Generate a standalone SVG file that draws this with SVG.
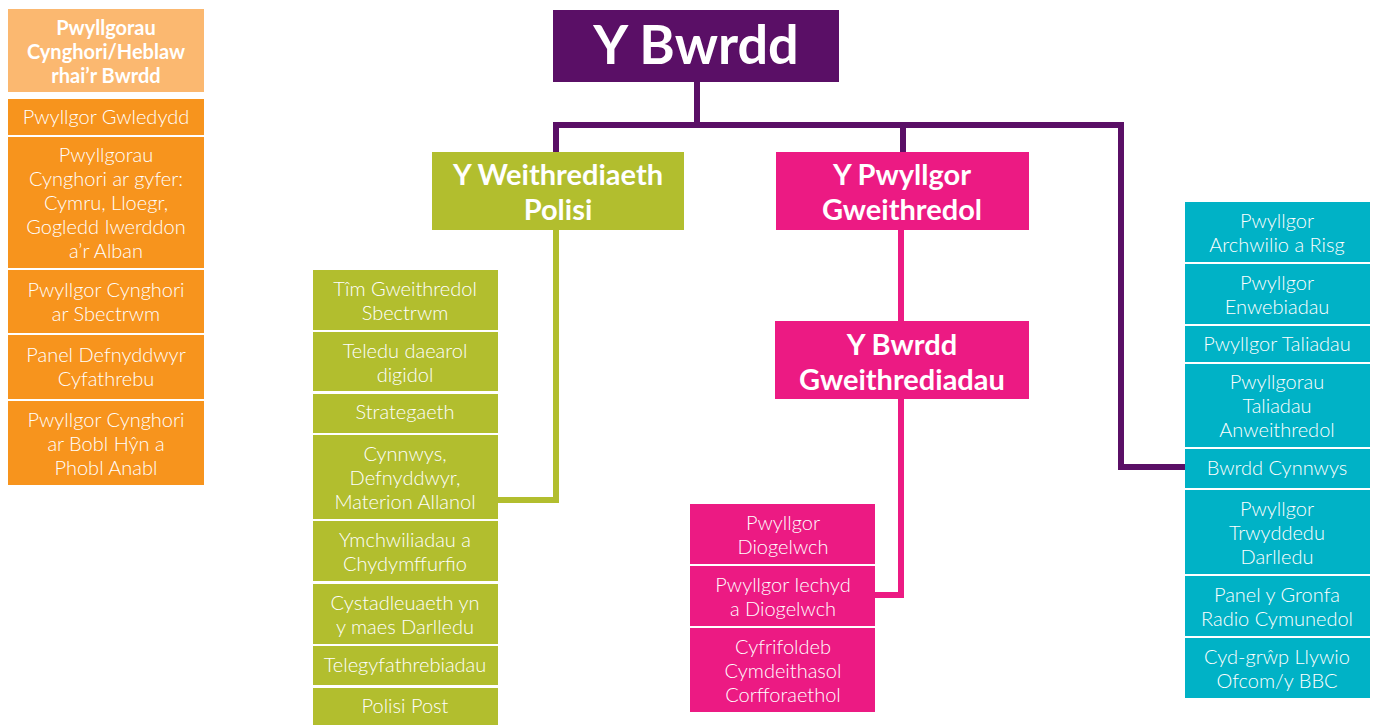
<svg xmlns="http://www.w3.org/2000/svg" width="1377" height="725" viewBox="0 0 1377 725">
<style>
.bg{fill:#FFFFFF}
.pur{fill:#5A0F66}
.grn{fill:#B2BE2E}
.pnk{fill:#EC1A83}
.tea{fill:#00B2C6}
.org{fill:#F7941D}
.lor{fill:#FBB870}
text{fill:#FFFFFF;font-family:Lato,"Open Sans","Liberation Sans",sans-serif;text-anchor:middle}
.it{font-size:20px;font-weight:300}
.hd{font-size:20px;font-weight:700}
.h2{font-size:29px;font-weight:700}
.h1{font-size:54px;font-weight:700}
.lp{fill:none;stroke:#5A0F66;stroke-width:6;stroke-linejoin:miter}
.lg{fill:none;stroke:#B2BE2E;stroke-width:6;stroke-linejoin:miter}
.lk{fill:none;stroke:#EC1A83;stroke-width:6;stroke-linejoin:miter}
</style>
<rect class="bg" x="0" y="0" width="1377" height="725"/>
<g id="connectors">
<path class="lp" d="M697,82 V125 M556,152 V125 H1121 V467 H1186"/>
<path class="lp" d="M903,125 V152"/>
<path class="lg" d="M556,230 V500 H498"/>
<path class="lk" d="M901,230 V321 M901,399 V595 H875"/>
</g>
<g id="y-bwrdd"><rect class="pur" x="553" y="10" width="286" height="72"/><text class="h1" x="696" y="64">Y Bwrdd</text></g>
<g id="weithrediaeth-polisi"><rect class="grn" x="432" y="152" width="252" height="78"/><text class="h2" x="558" y="185">Y Weithrediaeth</text><text class="h2" x="558" y="220">Polisi</text></g>
<g id="pwyllgor-gweithredol"><rect class="pnk" x="776" y="152" width="253" height="78"/><text class="h2" x="902" y="185">Y Pwyllgor</text><text class="h2" x="902" y="220">Gweithredol</text></g>
<g id="bwrdd-gweithrediadau"><rect class="pnk" x="775" y="321" width="254" height="78"/><text class="h2" x="902" y="355">Y Bwrdd</text><text class="h2" x="902" y="390">Gweithrediadau</text></g>

<g id="orange-header"><rect class="lor" x="8" y="9" width="196" height="83"/><text class="hd" x="106" y="35">Pwyllgorau</text><text class="hd" x="106" y="59">Cynghori/Heblaw</text><text class="hd" x="106" y="83">rhai’r Bwrdd</text></g>
<g id="o1"><rect class="org" x="8" y="99" width="196" height="36"/><text class="it" x="106" y="124">Pwyllgor Gwledydd</text></g>
<g id="o2"><rect class="org" x="8" y="137" width="196" height="131"/><text class="it" x="106" y="162">Pwyllgorau</text><text class="it" x="106" y="186">Cynghori ar gyfer:</text><text class="it" x="106" y="210">Cymru, Lloegr,</text><text class="it" x="106" y="234">Gogledd Iwerddon</text><text class="it" x="106" y="258">a’r Alban</text></g>
<g id="o3"><rect class="org" x="8" y="270" width="196" height="63"/><text class="it" x="106" y="297">Pwyllgor Cynghori</text><text class="it" x="106" y="321">ar Sbectrwm</text></g>
<g id="o4"><rect class="org" x="8" y="335" width="196" height="64"/><text class="it" x="106" y="362">Panel Defnyddwyr</text><text class="it" x="106" y="386">Cyfathrebu</text></g>
<g id="o5"><rect class="org" x="8" y="401" width="196" height="84"/><text class="it" x="106" y="427">Pwyllgor Cynghori</text><text class="it" x="106" y="451">ar Bobl Hŷn a</text><text class="it" x="106" y="475">Phobl Anabl</text></g>

<g id="g1"><rect class="grn" x="313" y="270" width="185" height="60"/><text class="it" x="405" y="296">Tîm Gweithredol</text><text class="it" x="405" y="320">Sbectrwm</text></g>
<g id="g2"><rect class="grn" x="313" y="332" width="185" height="59"/><text class="it" x="405" y="358">Teledu daearol</text><text class="it" x="405" y="382">digidol</text></g>
<g id="g3"><rect class="grn" x="313" y="394" width="185" height="39"/><text class="it" x="405" y="419">Strategaeth</text></g>
<g id="g4"><rect class="grn" x="313" y="435" width="185" height="84"/><text class="it" x="405" y="461">Cynnwys,</text><text class="it" x="405" y="485">Defnyddwyr,</text><text class="it" x="405" y="509">Materion Allanol</text></g>
<g id="g5"><rect class="grn" x="313" y="521" width="185" height="60"/><text class="it" x="405" y="547">Ymchwiliadau a</text><text class="it" x="405" y="571">Chydymffurfio</text></g>
<g id="g6"><rect class="grn" x="313" y="584" width="185" height="60"/><text class="it" x="405" y="610">Cystadleuaeth yn</text><text class="it" x="405" y="634">y maes Darlledu</text></g>
<g id="g7"><rect class="grn" x="313" y="646" width="185" height="39"/><text class="it" x="405" y="672">Telegyfathrebiadau</text></g>
<g id="g8"><rect class="grn" x="313" y="688" width="185" height="37"/><text class="it" x="405" y="713">Polisi Post</text></g>

<g id="p1"><rect class="pnk" x="690" y="504" width="185" height="60"/><text class="it" x="783" y="530">Pwyllgor</text><text class="it" x="783" y="554">Diogelwch</text></g>
<g id="p2"><rect class="pnk" x="690" y="566" width="185" height="60"/><text class="it" x="783" y="592">Pwyllgor Iechyd</text><text class="it" x="783" y="616">a Diogelwch</text></g>
<g id="p3"><rect class="pnk" x="690" y="628" width="185" height="84"/><text class="it" x="783" y="654">Cyfrifoldeb</text><text class="it" x="783" y="678">Cymdeithasol</text><text class="it" x="783" y="702">Corfforaethol</text></g>

<g id="t1"><rect class="tea" x="1185" y="202" width="185" height="60"/><text class="it" x="1277" y="228">Pwyllgor</text><text class="it" x="1277" y="252">Archwilio a Risg</text></g>
<g id="t2"><rect class="tea" x="1185" y="264" width="185" height="60"/><text class="it" x="1277" y="290">Pwyllgor</text><text class="it" x="1277" y="314">Enwebiadau</text></g>
<g id="t3"><rect class="tea" x="1185" y="326" width="185" height="36"/><text class="it" x="1277" y="351">Pwyllgor Taliadau</text></g>
<g id="t4"><rect class="tea" x="1185" y="364" width="185" height="83"/><text class="it" x="1277" y="389">Pwyllgorau</text><text class="it" x="1277" y="413">Taliadau</text><text class="it" x="1277" y="437">Anweithredol</text></g>
<g id="t5"><rect class="tea" x="1185" y="449" width="185" height="39"/><text class="it" x="1277" y="475">Bwrdd Cynnwys</text></g>
<g id="t6"><rect class="tea" x="1185" y="490" width="185" height="84"/><text class="it" x="1277" y="516">Pwyllgor</text><text class="it" x="1277" y="540">Trwyddedu</text><text class="it" x="1277" y="564">Darlledu</text></g>
<g id="t7"><rect class="tea" x="1185" y="576" width="185" height="60"/><text class="it" x="1277" y="602">Panel y Gronfa</text><text class="it" x="1277" y="626">Radio Cymunedol</text></g>
<g id="t8"><rect class="tea" x="1185" y="638" width="185" height="60"/><text class="it" x="1277" y="664">Cyd-grŵp Llywio</text><text class="it" x="1277" y="688">Ofcom/y BBC</text></g>
</svg>
